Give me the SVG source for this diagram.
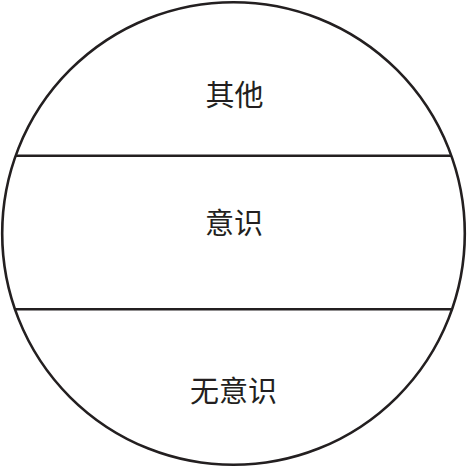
<svg xmlns="http://www.w3.org/2000/svg" width="467" height="467" viewBox="0 0 467 467">
<style>
.ln{stroke:#231f20;stroke-width:2.6;fill:none}
.t{font-family:"Noto Sans CJK SC","Noto Sans CJK JP",sans-serif;font-size:29px;fill:#231f20;text-anchor:middle}
</style>
<rect width="467" height="467" fill="#fff"/>
<g id="circle"><circle class="ln" cx="233.5" cy="233.5" r="231.3"/></g>
<g id="connectors">
<line class="ln" x1="15.5" y1="155.7" x2="451.5" y2="155.7"/>
<line class="ln" x1="14.8" y1="309.3" x2="452.2" y2="309.3"/>
</g>
<g id="other"><text class="t" x="234.5" y="106">其他</text></g>
<g id="conscious"><text class="t" x="234" y="234">意识</text></g>
<g id="unconscious"><text class="t" x="233.5" y="402">无意识</text></g>
</svg>
